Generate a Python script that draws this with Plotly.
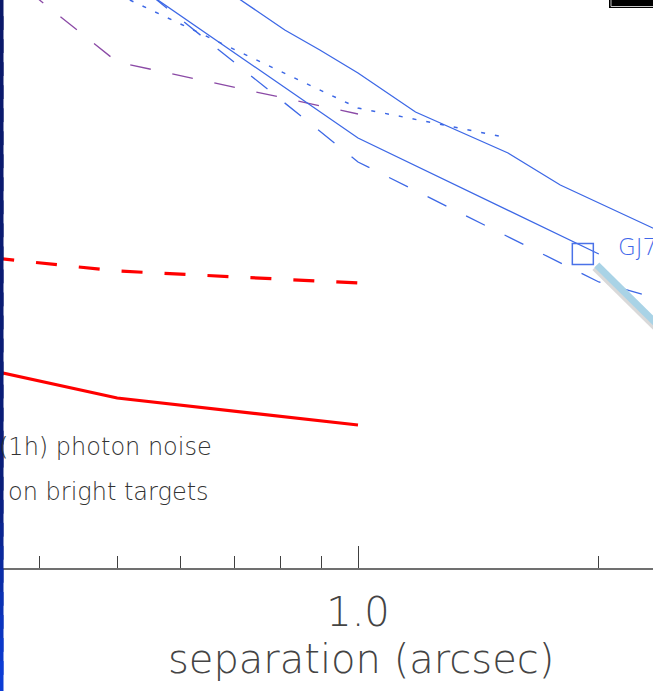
import math
import plotly.graph_objects as go

# Contrast curves: separation (arcsec) vs log10 contrast
sep_upper = [0.6, 0.714, 0.81, 0.896, 1.0, 1.18, 1.30, 1.54, 1.79, 2.5]
con_upper = [-2.09, -2.50, -2.80, -3.00, -3.23, -3.62, -3.77, -4.03, -4.35, -4.89]

sep_dotted = [0.5, 1.0, 1.5]
con_dotted = [-2.44, -3.58, -3.86]

sep_mid = [0.5, 1.0, 2.0]
con_mid = [-2.22, -3.88, -5.04]

sep_dash = [0.5, 1.0, 2.0, 2.5]
con_dash = [-2.18, -4.12, -5.32, -5.54]

sep_purple = [0.35, 0.5, 1.0]
con_purple = [-2.13, -3.12, -3.64]

sep_red = [0.35, 0.5, 1.0]
con_red_dash = [-5.08, -5.21, -5.33]
con_red_solid = [-6.21, -6.48, -6.75]

# detected companion
comp_sep = [1.91]
comp_con = [-5.04]
comp_name = "GJ758 B"

major_ticks = [1.0]
major_labels = ["1.0"]
minor_ticks = [0.3, 0.4, 0.5, 0.6, 0.7, 0.8, 0.9, 2.0, 3.0]
x_title = "separation (arcsec)"

W, H = 653, 691
X_RANGE = [-358 / 800, (W - 358) / 800]   # log10 arcsec
Y_RANGE = [-8.18, -2.5]                    # log10 contrast
Y_DOMAIN = [(H - 568) / H, 1]
BLUE = "#3d68e6"
FONT = "DejaVu Sans"
THIN = 200

# pixel scale of both axes, used to offset the pointer from the marker
PX_PER_DEC_X = W / (X_RANGE[1] - X_RANGE[0])
PX_PER_DEC_Y = H * (Y_DOMAIN[1] - Y_DOMAIN[0]) / (Y_RANGE[1] - Y_RANGE[0])

fig = go.Figure()

def curve(x, y, color, width, dash="solid"):
    fig.add_trace(go.Scatter(x=x, y=y, mode="lines",
                             line=dict(color=color, width=width, dash=dash),
                             hoverinfo="skip", showlegend=False))

curve(sep_purple, con_purple, "#8b4aa6", 1.3, "21px,22px")
curve(sep_upper, con_upper, BLUE, 1.3)
curve(sep_dotted, con_dotted, BLUE, 1.5, "4px,10px")
curve(sep_mid, con_mid, BLUE, 1.3)
curve(sep_dash, con_dash, BLUE, 1.3, "21px,22px")
curve(sep_red, con_red_dash, "#ff0000", 3.2, "21px,22px")
curve(sep_red, con_red_solid, "#ff0000", 3.2)

fig.add_trace(go.Scatter(x=comp_sep, y=comp_con, mode="markers",
                         marker=dict(symbol="square-open", size=21,
                                     color="#4a72e8", line=dict(width=1.5)),
                         hoverinfo="skip", showlegend=False))

# annotations on a log axis take log10 positions
comp_lx = math.log10(comp_sep[0])

def offset(dx_px, dy_px):
    """Separation / contrast shifted from the companion by screen pixels."""
    lx = comp_lx + dx_px / PX_PER_DEC_X
    return 10 ** lx, comp_con[0] - dy_px / PX_PER_DEC_Y

annotations = []
annotations.append(dict(x=comp_lx, y=comp_con[0], xref="x", yref="y",
                        text=comp_name, showarrow=False, xanchor="left",
                        yanchor="middle", xshift=33, yshift=7,
                        font=dict(family=FONT, size=23, color="#3f68ea",
                                  weight=300)))
annotations.append(dict(x=-3 / W, y=1 - 447 / H, xref="paper", yref="paper",
                        text="(1h) photon noise", showarrow=False,
                        xanchor="left", yanchor="middle",
                        font=dict(family=FONT, size=24, color="#333333",
                                  weight=THIN)))
annotations.append(dict(x=6 / W, y=1 - 492 / H, xref="paper", yref="paper",
                        text="on bright targets", showarrow=False,
                        xanchor="left", yanchor="middle",
                        font=dict(family=FONT, size=24, color="#333333",
                                  weight=THIN)))
# axis title, centred under the 1.0 tick
annotations.append(dict(x=361 / W, y=1 - 659 / H, xref="paper", yref="paper",
                        text=x_title, showarrow=False,
                        xanchor="center", yanchor="middle",
                        font=dict(family=FONT, size=40, color="#444444",
                                  weight=THIN)))

shapes = []
# pointer bar leading away from the companion marker, with a soft shadow
for col, sx, sy in [("rgba(120,120,120,0.28)", -2, 2.5), ("#a9d3e6", 0, 0)]:
    x0, y0 = offset(14 + sx, 11 + sy)
    x1, y1 = offset(150 + sx, 145 + sy)
    shapes.append(dict(type="line", xref="x", yref="y",
                       x0=x0, y0=y0, x1=x1, y1=y1,
                       line=dict(color=col, width=7)))

# frame strip on the left edge, dark navy shading to brighter blue
stops = [(0.0, (10, 24, 104)), (0.72, (10, 30, 122)),
         (0.86, (10, 46, 172)), (1.0, (12, 62, 218))]
n = 30
for i in range(n):
    t = (i + 0.5) / n
    for (t0, c0), (t1, c1) in zip(stops[:-1], stops[1:]):
        if t0 <= t <= t1:
            f = (t - t0) / (t1 - t0)
            c = tuple(round(a + (b - a) * f) for a, b in zip(c0, c1))
            break
    shapes.append(dict(type="rect", xref="paper", yref="paper",
                       x0=-0.01, x1=3.5 / W,
                       y0=1 - (i + 1.3) / n, y1=1 - (i - 0.3) / n,
                       fillcolor="rgb(%d,%d,%d)" % c, line=dict(width=0),
                       layer="above"))
# small dark box in the top-right corner
shapes.append(dict(type="rect", xref="paper", yref="paper",
                   x0=609 / W, x1=1.02, y0=1 - 8 / H, y1=1.02,
                   fillcolor="black", line=dict(width=0)))
shapes.append(dict(type="rect", xref="paper", yref="paper",
                   x0=611 / W, x1=1.05, y0=1 - 6.5 / H, y1=1.05,
                   fillcolor="black", line=dict(color="#c8c8c8", width=1)))

fig.update_layout(
    width=W, height=H, autosize=False,
    margin=dict(l=0, r=0, t=0, b=0),
    paper_bgcolor="white", plot_bgcolor="white",
    annotations=annotations, shapes=shapes,
    xaxis=dict(type="log", range=X_RANGE,
               domain=[0, 1], showgrid=False, zeroline=False,
               showline=True, linecolor="#707070", linewidth=2,
               ticks="inside", ticklen=22, tickwidth=1.2, tickcolor="#404040",
               tickmode="array", tickvals=major_ticks, ticktext=major_labels,
               ticklabelstandoff=8,
               tickfont=dict(family=FONT, size=40, color="#444444",
                             weight=THIN),
               minor=dict(tickmode="array", tickvals=minor_ticks,
                          ticks="inside", ticklen=12, tickwidth=1.2,
                          tickcolor="#404040", showgrid=False)),
    yaxis=dict(range=Y_RANGE, domain=Y_DOMAIN,
               visible=False, showgrid=False, zeroline=False),
)

fig.write_html("out.html")
